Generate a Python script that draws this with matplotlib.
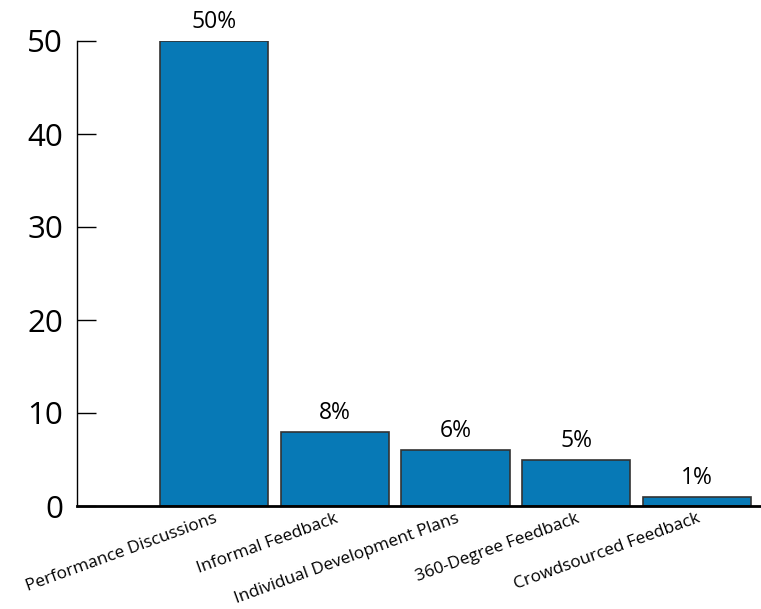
import matplotlib
matplotlib.use("Agg")
import matplotlib.pyplot as plt

categories = ["Performance Discussions", "Informal Feedback", "Individual Development Plans",
              "360-Degree Feedback", "Crowdsourced Feedback"]
values = [50, 8, 6, 5, 1]
bar_labels = ["50%", "8%", "6%", "5%", "1%"]
yticks = [0, 10, 20, 30, 40, 50]

plt.rcParams['font.family'] = ['Open Sans', 'DejaVu Sans']

fig = plt.figure(figsize=(7.61, 6.09), dpi=100)
ax = fig.add_axes([77/761, 103/609, 684/761, 465/609])

x = list(range(len(categories)))
bars = ax.bar(x, values, width=0.895, color='#0779b6', edgecolor='#333333', linewidth=1.2, zorder=2)
for b, lab in zip(bars, bar_labels):
    ax.annotate(lab, (b.get_x() + b.get_width()/2, b.get_height()), xytext=(0, 5),
                textcoords='offset points', ha='center', va='bottom', fontsize=16.5)

ax.set_xlim(-1.134, 4.53)
ax.set_ylim(0, 50)
ax.set_yticks(yticks)
ax.set_yticklabels([str(t) for t in yticks], fontsize=22.5)
ax.tick_params(axis='y', direction='in', length=14, width=1, pad=10)
ax.set_xticks(x)
ax.set_xticklabels(categories, rotation=20, ha='right', rotation_mode='anchor', fontsize=12.3)
ax.tick_params(axis='x', length=0, pad=3.5)

ax.spines['top'].set_visible(False)
ax.spines['right'].set_visible(False)
ax.spines['left'].set_linewidth(1)
ax.spines['bottom'].set_linewidth(2)

fig.savefig('out.png', dpi=100)
